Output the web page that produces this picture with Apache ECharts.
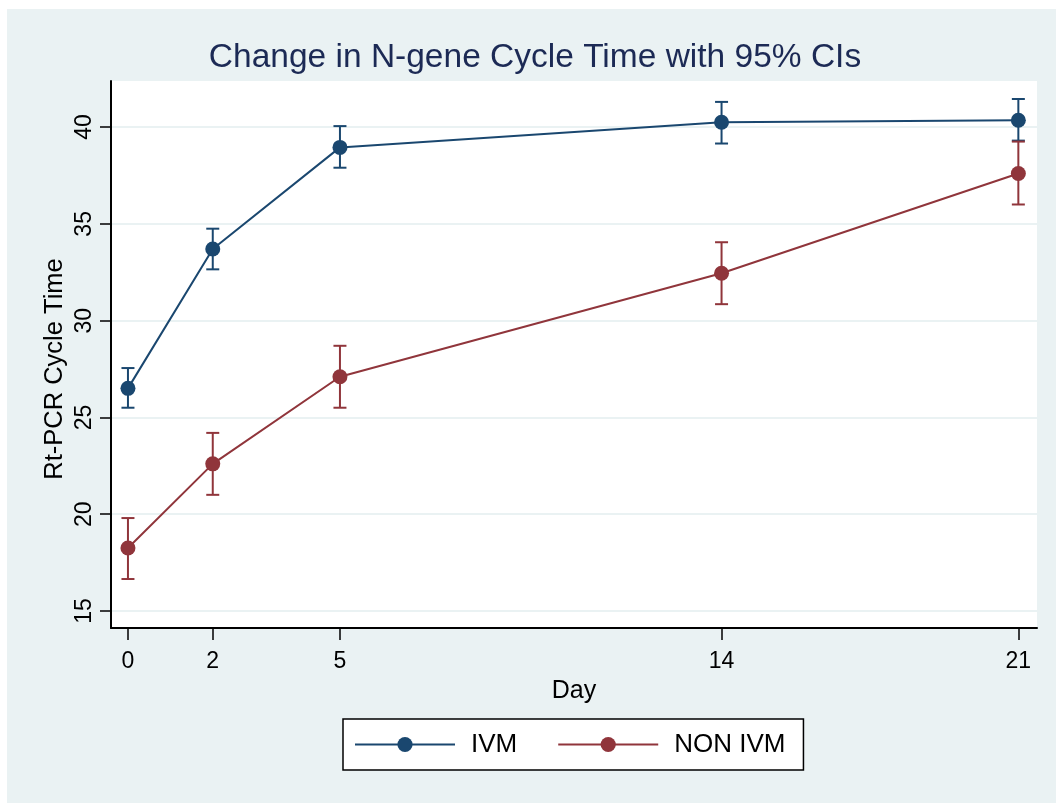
<!DOCTYPE html>
<html>
<head>
<meta charset="utf-8">
<script src="https://cdn.jsdelivr.net/npm/echarts@6/dist/echarts.min.js"></script>
<style>html,body{margin:0;padding:0;background:#fff}#c{width:1056px;height:803px}</style>
</head>
<body>
<div id="c"></div>
<script>
const days = [0, 2, 5, 14, 21];
const dayTicks = [0, 2, 5, 14, 21];
const yTicks = [15, 20, 25, 30, 35, 40];
const ivmMean = [26.5, 33.7, 38.95, 40.25, 40.35];
const ivmLow  = [25.5, 32.65, 37.9, 39.15, 39.3];
const ivmHigh = [27.55, 34.75, 40.05, 41.3, 41.45];
const nonMean = [18.25, 22.6, 27.1, 32.45, 37.6];
const nonLow  = [16.65, 21.0, 25.5, 30.85, 36.0];
const nonHigh = [19.8, 24.2, 28.7, 34.05, 39.25];
const seriesNames = ['IVM', 'NON IVM'];

const navy = '#1a476f';
const maroon = '#90353b';
const bg = '#eaf2f3';
const FONT = '"Liberation Sans", Arial, Helvetica, sans-serif';

function errBar(color) {
  return function (params, api) {
    const x = api.value(0);
    const lo = api.coord([x, api.value(1)]);
    const hi = api.coord([x, api.value(2)]);
    const w = 6.5;
    const st = { stroke: color, lineWidth: 2 };
    return {
      type: 'group',
      children: [
        { type: 'line', shape: { x1: lo[0], y1: lo[1], x2: hi[0], y2: hi[1] }, style: st },
        { type: 'line', shape: { x1: lo[0] - w, y1: lo[1], x2: lo[0] + w, y2: lo[1] }, style: st },
        { type: 'line', shape: { x1: hi[0] - w, y1: hi[1], x2: hi[0] + w, y2: hi[1] }, style: st }
      ]
    };
  };
}

const chart = echarts.init(document.getElementById('c'), null, { renderer: 'canvas' });
chart.setOption({
  backgroundColor: bg,
  animation: false,
  graphic: [
    { type: 'rect', shape: { x: 0, y: 0, width: 1056, height: 9 }, style: { fill: '#fff' }, silent: true },
    { type: 'rect', shape: { x: 0, y: 0, width: 7, height: 803 }, style: { fill: '#fff' }, silent: true },
    { type: 'text', x: 535, y: 58, style: { text: 'Change in N-gene Cycle Time with 95% CIs', fill: '#1c2a55', font: '33.5px ' + FONT, textAlign: 'center', textVerticalAlign: 'middle' } },
    { type: 'text', x: 55, y: 369, rotation: Math.PI / 2, style: { text: 'Rt-PCR Cycle Time', fill: '#000', font: '25.5px ' + FONT, textAlign: 'center', textVerticalAlign: 'middle' } }
  ],
  grid: { left: 111, right: 19, top: 81, bottom: 175, show: true, backgroundColor: '#fff', borderWidth: 0 },
  legend: {
    data: seriesNames,
    left: 343, top: 719,
    orient: 'horizontal',
    itemWidth: 100, itemHeight: 19, itemGap: 40,
    padding: [12, 18, 12, 11],
    backgroundColor: '#fff', borderColor: '#000', borderWidth: 1.5, borderRadius: 0,
    textStyle: { fontFamily: FONT, fontSize: 26, color: '#000', lineHeight: 27, padding: [0, 0, 0, 11] }
  },
  xAxis: {
    type: 'value', min: -0.4, max: 21.44,
    name: 'Day', nameLocation: 'middle', nameGap: 51,
    nameTextStyle: { fontFamily: FONT, fontSize: 25, color: '#000' },
    axisLine: { show: true, onZero: false, lineStyle: { color: '#000', width: 2 } },
    axisTick: { show: true, customValues: dayTicks, length: 12, lineStyle: { color: '#000', width: 1.5 } },
    axisLabel: { customValues: dayTicks, fontFamily: FONT, fontSize: 23, color: '#000', margin: 22 },
    splitLine: { show: false }
  },
  yAxis: {
    type: 'value', min: 14.12, max: 42.38,
    axisLine: { show: true, onZero: false, lineStyle: { color: '#000', width: 2 } },
    axisTick: { show: true, customValues: yTicks, length: 11, lineStyle: { color: '#000', width: 1.5 } },
    axisLabel: { customValues: yTicks, rotate: 90, fontFamily: FONT, fontSize: 23, color: '#000', margin: 15 },
    splitLine: { show: true, lineStyle: { color: bg, width: 2 } }
  },
  series: [
    { name: 'IVM err', type: 'custom', renderItem: errBar(navy), data: days.map((d, i) => [d, ivmLow[i], ivmHigh[i]]), z: 2, silent: true },
    { name: 'NON IVM err', type: 'custom', renderItem: errBar(maroon), data: days.map((d, i) => [d, nonLow[i], nonHigh[i]]), z: 2, silent: true },
    { name: 'IVM', type: 'line', data: days.map((d, i) => [d, ivmMean[i]]), symbol: 'circle', symbolSize: 15,
      itemStyle: { color: navy }, lineStyle: { color: navy, width: 2 }, z: 3 },
    { name: 'NON IVM', type: 'line', data: days.map((d, i) => [d, nonMean[i]]), symbol: 'circle', symbolSize: 15,
      itemStyle: { color: maroon }, lineStyle: { color: maroon, width: 2 }, z: 3 }
  ]
});
</script>
</body>
</html>
